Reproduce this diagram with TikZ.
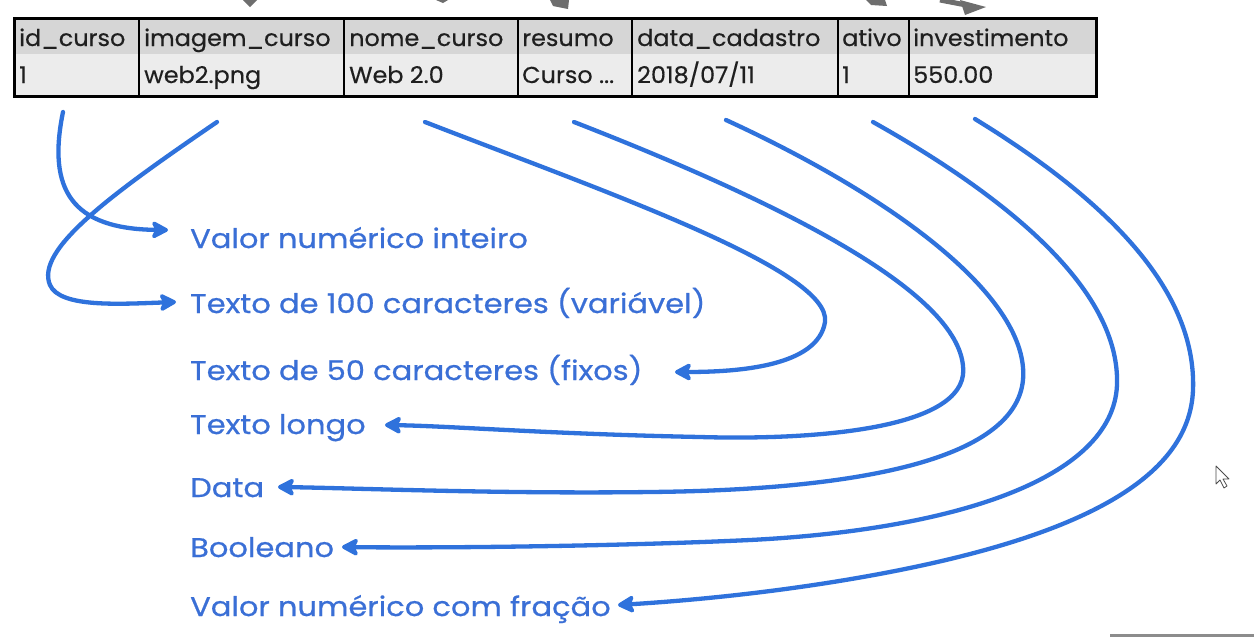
\documentclass[tikz,border=0pt]{standalone}
\usepackage{fontspec}
\setmainfont[FakeStretch=1.13, FakeBold=0.6]{Poppins}
\newfontfamily\tblfont[FakeStretch=1.04, FakeBold=0.4]{Poppins}
\usetikzlibrary{arrows.meta}
\definecolor{lineblue}{HTML}{2F72DC}
\definecolor{textblue}{HTML}{3A6FD6}
\definecolor{hdrgray}{HTML}{D6D6D6}
\definecolor{rowgray}{HTML}{ECECEC}
\definecolor{tipgray}{HTML}{6E6E6E}
\tikzset{
  cell/.style={anchor=base west, inner sep=0pt, font=\tblfont\fontsize{23}{26}\selectfont, text=black!88},
  lbl/.style={anchor=base west, inner sep=0pt, font=\fontsize{27}{30}\selectfont, text=textblue},
  conn/.style={draw=lineblue, line width=4.3pt, line cap=round,
    -{Stealth[length=20pt,width=21pt,inset=5pt,round]}},
  grid/.style={line width=2pt, draw=black},
}
\begin{document}
\begin{tikzpicture}[x=1pt,y=-1pt]
\useasboundingbox (0,0) rectangle (1254,638);
\fill[white] (0,0) rectangle (1254,638);
% gray arrow fragments at top
\fill[tipgray] (243,0) -- (257,0) -- (250,7) -- cycle;
\fill[tipgray] (436,0) -- (448,0) -- (443,3) -- cycle;
\fill[tipgray] (550,0) -- (569,0) -- (568,9) -- (553,6) -- cycle;
\fill[tipgray] (866,0) -- (885,0) -- (887,6) -- (871,5) -- cycle;
\draw[tipgray, line width=5pt] (940,0) -- (966,5);
\fill[tipgray] (960,0) -- (986,7) -- (965,15) -- cycle;
% table
\fill[hdrgray] (14,18) rectangle (1096,54);
\fill[rowgray] (14,54) rectangle (1096,96);
\foreach \x in {139,344,518,632,838,909} \draw[grid] (\x,18) -- (\x,96);
\draw[line width=3pt] (14,18) rectangle (1096,96);
\node[cell] (h1) at (19,46) {id\_curso};
\node[cell] (h2) at (144,46) {imagem\_curso};
\node[cell] (h3) at (349,46) {nome\_curso};
\node[cell] (h4) at (522,46) {resumo};
\node[cell] (h5) at (637,46) {data\_cadastro};
\node[cell] (h6) at (842,46) {ativo};
\node[cell] (h7) at (913,46) {investimento};
\node[cell] (d1) at (19,83) {1};
\node[cell] (d2) at (144,83) {web2.png};
\node[cell] (d3) at (349,83) {Web 2.0};
\node[cell] (d4) at (522,83) {Curso ...};
\node[cell] (d5) at (637,83) {2018/07/11};
\node[cell] (d6) at (842,83) {1};
\node[cell] (d7) at (913,83) {550.00};
% labels
\node[lbl] (l1) at (190,248) {Valor numérico inteiro};
\node[lbl] (l2) at (190,313) {Texto de 100 caracteres (variável)};
\node[lbl] (l3) at (190,380) {Texto de 50 caracteres (fixos)};
\node[lbl] (l4) at (190,434) {Texto longo};
\node[lbl] (l5) at (190,497) {Data};
\node[lbl] (l6) at (190,557) {Booleano};
\node[lbl] (l7) at (190,616) {Valor numérico com fração};
% connector end points
\coordinate (s1) at (63,112);
\coordinate (s2) at (217,122);
\coordinate (s3) at (425,122);
\coordinate (s4) at (574,122);
\coordinate (s5) at (726,120);
\coordinate (s6) at (873,122);
\coordinate (s7) at (975,119);
\coordinate (t1) at (168,230);
\coordinate (t2) at (176,302);
\coordinate (t3) at (675,372);
\coordinate (t4) at (385,425);
\coordinate (t5) at (278,487);
\coordinate (t6) at (342,547);
\coordinate (t7) at (618,605);
% connectors
\draw[conn] (s1) .. controls (47,190) and (72,229) .. (t1);
\draw[conn] (s2) .. controls (110,195) and (35,250) .. (50,285) .. controls (60,308) and (120,304) .. (t2);
\draw[conn] (s3) .. controls (600,190) and (832,270) .. (825,322) .. controls (818,366) and (740,372) .. (t3);
\draw[conn] (s4) .. controls (800,210) and (970,300) .. (963,375) .. controls (955,432) and (800,440) .. (700,437) .. controls (550,434) and (450,426) .. (t4);
\draw[conn] (s5) .. controls (900,200) and (1030,300) .. (1023,380) .. controls (1015,462) and (850,490) .. (650,492) .. controls (500,494) and (350,488) .. (t5);
\draw[conn] (s6) .. controls (1030,210) and (1120,300) .. (1117,385) .. controls (1113,480) and (950,530) .. (750,540) .. controls (600,547) and (420,548) .. (t6);
\draw[conn] (s7) .. controls (1140,220) and (1196,310) .. (1193,390) .. controls (1190,470) and (1100,530) .. (900,570) .. controls (800,590) and (700,600) .. (t7);
% cursor and bottom bar
\draw[black!70, fill=white, line width=0.8pt, line join=round] (1216,466) -- (1216,484) -- (1220,480) -- (1224,488) -- (1227,486) -- (1223,479) -- (1229,479) -- cycle;
\draw[black!45, line width=3pt] (1110,635) -- (1254,635);
\end{tikzpicture}
\end{document}
